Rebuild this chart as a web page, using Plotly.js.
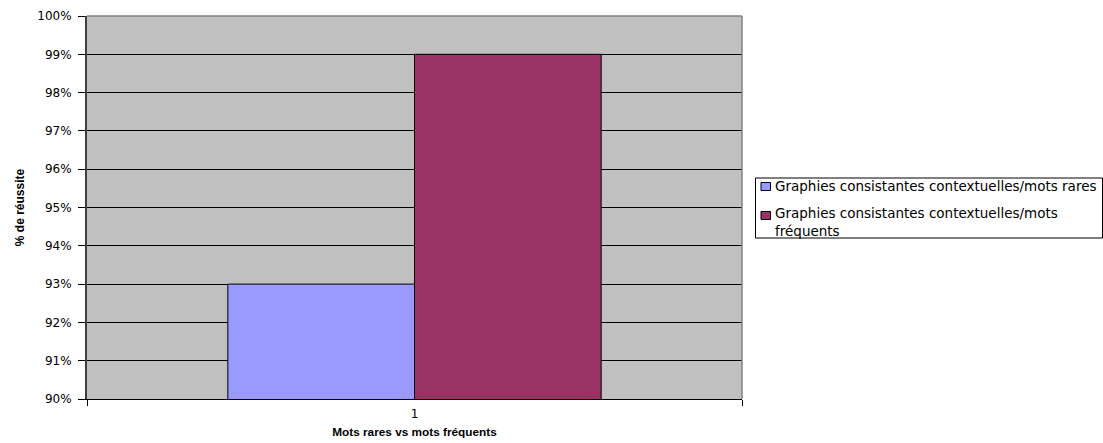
<!DOCTYPE html>
<html>
<head>
<meta charset="utf-8">
<script src="https://cdn.plot.ly/plotly-3.0.1.min.js"></script>
<style>html,body{margin:0;padding:0;background:#fff;}#chart{width:1103px;height:443px;}</style>
</head>
<body>
<div id="chart"></div>
<script>
const categories = ["1"];
const seriesNames = ["Graphies consistantes contextuelles/mots rares", "Graphies consistantes contextuelles/mots<br>fréquents"];
const rares = [0.93];
const frequents = [0.99];
const yTicks = [0.90,0.91,0.92,0.93,0.94,0.95,0.96,0.97,0.98,0.99,1.00];
const colors = ["#9999FF", "#993366"];

const font = "'DejaVu Sans', Arial, sans-serif";
const boldFont = "Arial, 'Liberation Sans', sans-serif";
const traces = [rares, frequents].map((vals, i) => ({
  type: 'bar',
  x: categories,
  y: vals,
  name: seriesNames[i],
  marker: {color: colors[i], line: {color: '#000', width: 1}}
}));

// manual legend, in pixel coordinates converted to paper units
const L = 87, R = 742, T = 16, B = 399;
const px = v => (v - L) / (R - L);
const py = v => (B - v) / (B - T);

const shapes = [
  {type: 'line', xref: 'paper', yref: 'paper', x0: 0, x1: 1, y0: 1, y1: 1, line: {color: '#808080', width: 1.5}},
  {type: 'line', xref: 'paper', yref: 'paper', x0: 1, x1: 1, y0: 0, y1: 1, line: {color: '#808080', width: 1.5}},
  {type: 'rect', xref: 'paper', yref: 'paper', x0: px(755.5), x1: px(1102.5), y0: py(238), y1: py(178),
   line: {color: '#000', width: 1}, fillcolor: '#fff', layer: 'above'}
];
const annotations = [];
const symY = [186.5, 215.5];
const textY = [186.5, 222];
seriesNames.forEach((nm, i) => {
  shapes.push({type: 'rect', xref: 'paper', yref: 'paper',
    x0: px(761), x1: px(770.5), y0: py(symY[i] + 4), y1: py(symY[i] - 4),
    fillcolor: colors[i], line: {color: '#000', width: 1}, layer: 'above'});
  annotations.push({xref: 'paper', yref: 'paper', x: px(774), y: py(textY[i]),
    xanchor: 'left', yanchor: 'middle', align: 'left', showarrow: false, text: nm,
    font: {family: font, size: 13.5, color: '#000'}, borderpad: 0});
});

const layout = {
  width: 1103, height: 443,
  margin: {l: L, r: 1103 - R, t: T, b: 443 - B, pad: 0},
  paper_bgcolor: '#fff',
  plot_bgcolor: '#C0C0C0',
  barmode: 'group',
  bargap: 0.43,
  bargroupgap: 0,
  showlegend: false,
  font: {family: font, size: 12, color: '#000'},
  xaxis: {
    type: 'category',
    tickson: 'boundaries',
    ticks: 'outside', ticklen: 6, tickcolor: '#000',
    showline: true, linecolor: '#000', linewidth: 1,
    showgrid: false, zeroline: false,
    tickfont: {family: font, size: 12},
    ticklabelstandoff: 4,
    title: {text: '<b>Mots rares vs mots fréquents</b>', font: {family: boldFont, size: 11.8}, standoff: 7}
  },
  yaxis: {
    range: [0.90, 1.00],
    tickvals: yTicks,
    tickformat: '.0%',
    ticks: 'outside', ticklen: 7, tickcolor: '#000',
    showline: true, linecolor: '#404040', linewidth: 2,
    showgrid: true, gridcolor: '#000', gridwidth: 1,
    zeroline: false,
    tickfont: {family: font, size: 12},
    ticklabelstandoff: 4,
    title: {text: '<b>% de réussite</b>', font: {family: boldFont, size: 12}, standoff: 10}
  },
  shapes: shapes,
  annotations: annotations
};

Plotly.newPlot('chart', traces, layout, {displayModeBar: false, staticPlot: true});
</script>
</body>
</html>
